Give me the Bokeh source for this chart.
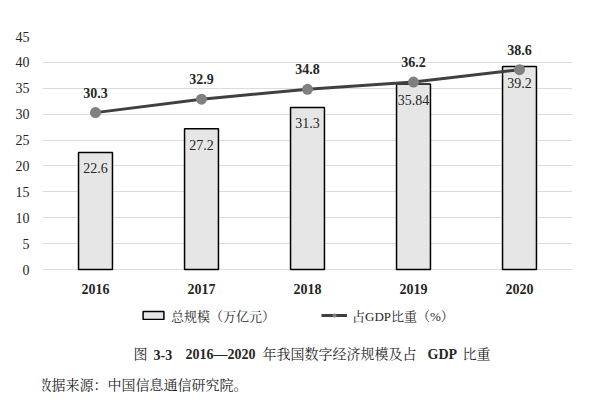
from bokeh.plotting import figure
from bokeh.models import (Range1d, FixedTicker, Label, Legend, LegendItem, ColumnDataSource, LabelSet)
from bokeh.core.properties import value
from bokeh.embed import file_html
from bokeh.resources import INLINE

years = ["2016", "2017", "2018", "2019", "2020"]
scale_vals = [22.6, 27.2, 31.3, 35.84, 39.2]
scale_labels = ["22.6", "27.2", "31.3", "35.84", "39.2"]
share_vals = [30.3, 32.9, 34.8, 36.2, 38.6]
share_labels = ["30.3", "32.9", "34.8", "36.2", "38.6"]
y_ticks = [0, 5, 10, 15, 20, 25, 30, 35, 40, 45]

SERIF = "'Liberation Serif', 'Noto Serif CJK SC', 'Noto Sans CJK SC'"
TXT = "#262626"

xpos = [i + 0.5 for i in range(len(years))]
src = ColumnDataSource(dict(x=xpos, zero=[0] * len(years), year=years,
                            bar=scale_vals, barlab=scale_labels,
                            line=share_vals, linelab=share_labels))

W, H = 600, 414
TOP, LEFT, RIGHT = 36, 42, 28
K = 233 / 45.0            # px per unit in y
YMIN = 45 - (H - TOP) / K

p = figure(width=W, height=H, output_backend="svg", toolbar_location=None,
           x_range=Range1d(0, 5), y_range=Range1d(YMIN, 45),
           min_border_left=LEFT, min_border_right=RIGHT, min_border_top=TOP, min_border_bottom=0)
p.outline_line_color = None
p.background_fill_color = "white"

bars = p.vbar(x="x", top="bar", width=0.32, bottom=0, source=src,
              fill_color="#e6e6e6", line_color="black", line_width=1.5)
ln = p.line(x="x", y="line", source=src, line_color="#404040", line_width=3)
pts = p.scatter(x="x", y="line", source=src, size=11, fill_color="#808080", line_color=None)

p.add_layout(LabelSet(x="x", y="bar", text="barlab", source=src, y_offset=-16,
                      text_align="center", text_baseline="middle",
                      text_font=value(SERIF), text_font_size="14px", text_color="#262626"))
p.add_layout(LabelSet(x="x", y="line", text="linelab", source=src, y_offset=20,
                      text_align="center", text_baseline="middle",
                      text_font=value(SERIF), text_font_size="14px", text_color=TXT,
                      text_font_style="bold"))
p.add_layout(LabelSet(x="x", y="zero", text="year", source=src, y_offset=-19,
                      text_align="center", text_baseline="middle",
                      text_font=value(SERIF), text_font_size="14px", text_color=TXT,
                      text_font_style="bold"))

p.xaxis.visible = False

p.yaxis.ticker = FixedTicker(ticks=y_ticks)
p.yaxis.major_label_text_font = SERIF
p.yaxis.major_label_text_font_size = "14px"
p.yaxis.major_label_text_color = TXT
p.yaxis.major_tick_line_color = None
p.yaxis.minor_tick_line_color = None
p.yaxis.axis_line_color = None
p.yaxis.major_label_standoff = 7

p.xgrid.grid_line_color = None
p.ygrid.grid_line_color = "#dcdcdc"
p.ygrid.grid_line_width = 1

legend = Legend(items=[LegendItem(label="总规模（万亿元）", renderers=[bars]),
                       LegendItem(label="占GDP比重（%）", renderers=[ln, pts])],
                orientation="horizontal", location=(98, H - 325),
                label_text_font=SERIF, label_text_font_size="13px", label_text_color=TXT,
                glyph_width=26, glyph_height=10, spacing=46, border_line_color=None,
                background_fill_alpha=0, margin=0, padding=0, label_standoff=5,
                label_height=20)
p.add_layout(legend, "center")

def px_x(v):
    return (v - LEFT) / 106.0

def px_y(v):
    return (269 - v) / K

cap_y = px_y(354)
caption = [(133, "图", "normal"), (153, "3-3", "bold"), (185, "2016—2020", "bold"),
           (262, "年我国数字经济规模及占", "normal"), (427, "GDP", "bold"), (462, "比重", "normal")]
for xp, t, st in caption:
    p.add_layout(Label(x=px_x(xp), y=cap_y, text=t, text_align="left", text_baseline="middle",
                       text_font=SERIF, text_font_size="14px", text_color=TXT,
                       text_font_style=st))

p.add_layout(Label(x=px_x(37), y=px_y(385), text="数据来源：中国信息通信研究院。",
                   text_align="left", text_baseline="middle",
                   text_font=SERIF, text_font_size="14px", text_color=TXT))

open("out.html", "w").write(file_html(p, INLINE))
